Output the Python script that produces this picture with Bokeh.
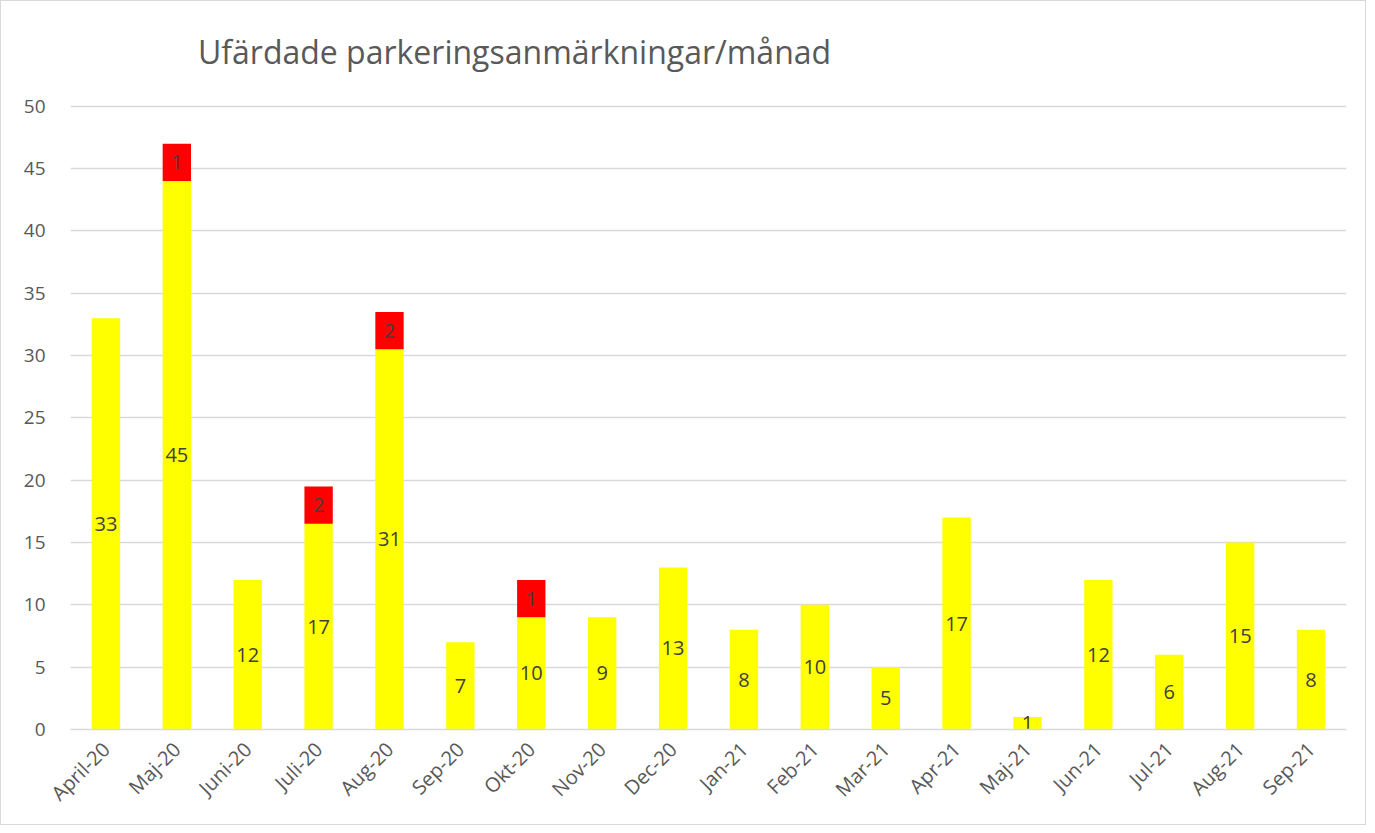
from bokeh.plotting import figure
from bokeh.models import ColumnDataSource, FactorRange, Range1d, FixedTicker
from bokeh.core.properties import value
from bokeh.embed import file_html
from bokeh.resources import INLINE
import math

months = ["April-20", "Maj-20", "Juni-20", "Juli-20", "Aug-20", "Sep-20", "Okt-20", "Nov-20", "Dec-20",
          "Jan-21", "Feb-21", "Mar-21", "Apr-21", "Maj-21", "Jun-21", "Jul-21", "Aug-21", "Sep-21"]
yellow_height = [33, 44, 12, 16.5, 30.5, 7, 9, 9, 13, 8, 10, 5, 17, 1, 12, 6, 15, 8]
red_height = [0, 3, 0, 3, 3, 0, 3, 0, 0, 0, 0, 0, 0, 0, 0, 0, 0, 0]
yellow_label = [33, 45, 12, 17, 31, 7, 10, 9, 13, 8, 10, 5, 17, 1, 12, 6, 15, 8]
red_label = [None, 1, None, 2, 2, None, 1, None, None, None, None, None, None, None, None, None, None, None]
y_ticks = [0, 5, 10, 15, 20, 25, 30, 35, 40, 45, 50]
title_text = "Ufärdade parkeringsanmärkningar/månad"

FONT = "Open Sans"
TXT = "#595959"
LBL = "#404040"
GRID = "#d9d9d9"

p = figure(x_range=FactorRange(*months), y_range=Range1d(0, 57.6),
           width=1366, height=825, output_backend="svg", toolbar_location=None,
           min_border_left=69, min_border_right=21, min_border_top=10, min_border_bottom=97)
p.styles = {"border": "1px solid #d9d9d9"}
p.outline_line_color = None
p.background_fill_color = "white"
p.border_fill_color = "white"

ysrc = ColumnDataSource(dict(x=months, top=yellow_height, mid=[h / 2 for h in yellow_height],
                             lab=[str(v) for v in yellow_label]))
p.vbar(x="x", top="top", bottom=0, width=0.4, source=ysrc, fill_color="#FFFF00", line_color=None)

rx, rb, rt, rm, rl = [], [], [], [], []
for m, yh, rh, lab in zip(months, yellow_height, red_height, red_label):
    if rh > 0:
        rx.append(m); rb.append(yh); rt.append(yh + rh); rm.append(yh + rh / 2); rl.append(str(lab))
rsrc = ColumnDataSource(dict(x=rx, bottom=rb, top=rt, mid=rm, lab=rl))
p.vbar(x="x", top="top", bottom="bottom", width=0.4, source=rsrc, fill_color="#FF0000", line_color=None)

p.text(x="x", y="mid", text="lab", source=ysrc, text_align="center", text_baseline="middle",
       text_font=value(FONT), text_font_size="20px", text_color=LBL)
p.text(x="x", y="mid", text="lab", source=rsrc, text_align="center", text_baseline="middle",
       text_font=value(FONT), text_font_size="20px", text_color=LBL)

tsrc = ColumnDataSource(dict(x=[months[0]], y=[54.4], t=[title_text]))
p.text(x="x", y="y", text="t", source=tsrc, x_offset=92, text_align="left", text_baseline="alphabetic",
       text_font=value(FONT), text_font_size="32px", text_color=TXT)

p.yaxis.ticker = FixedTicker(ticks=y_ticks)
p.ygrid.grid_line_color = GRID
p.ygrid.grid_line_width = 1.5
p.xgrid.grid_line_color = None
p.yaxis.axis_line_color = None
p.yaxis.major_tick_line_color = None
p.yaxis.minor_tick_line_color = None
p.yaxis.major_label_standoff = 19
p.yaxis.major_label_text_font = FONT
p.yaxis.major_label_text_font_size = "19px"
p.yaxis.major_label_text_color = TXT

p.xaxis.axis_line_color = GRID
p.xaxis.axis_line_width = 1.5
p.xaxis.major_tick_line_color = None
p.xaxis.minor_tick_line_color = None
p.xaxis.major_label_orientation = math.pi / 4
p.xaxis.major_label_standoff = 10
p.xaxis.major_label_text_font = FONT
p.xaxis.major_label_text_font_size = "20px"
p.xaxis.major_label_text_color = TXT

open("out.html", "w").write(file_html(p, INLINE))
